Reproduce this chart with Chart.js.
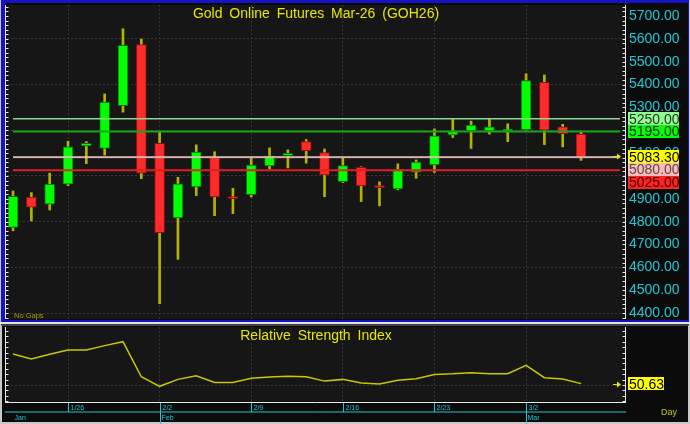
<!DOCTYPE html>
<html>
<head>
<meta charset="utf-8">
<script src="https://cdn.jsdelivr.net/npm/chart.js@4"></script>
<style>
  body { margin: 0; background: #c8c8c8; width: 690px; height: 424px; overflow: hidden; position: relative; font-family: Arial, "Liberation Sans", sans-serif; }
  #mainWrap { position: absolute; left: 0; top: 0; width: 690px; height: 322px; }
  #rsiWrap { position: absolute; left: 0; top: 322px; width: 690px; height: 102px; }
  .lbl { position: absolute; white-space: pre; }
  #title { left: 7px; width: 618px; top: 6px; text-align: center; font-size: 14px; line-height: 14px; color: #e6e600; word-spacing: 3px; }
  #rsiTitle { left: 7px; width: 618px; top: 328px; text-align: center; font-size: 14px; line-height: 14px; color: #e6e600; word-spacing: 3px; }
  #noGaps { left: 14px; top: 312px; font-size: 7.5px; line-height: 8px; color: #a0a000; }
  #day { left: 661px; top: 408px; font-size: 9px; line-height: 9px; color: #c8c800; }
</style>
</head>
<body>
<div id="mainWrap"><canvas id="mainChart"></canvas></div>
<div id="rsiWrap"><canvas id="rsiChart"></canvas></div>
<div class="lbl" id="title">Gold Online Futures Mar-26 (GOH26)</div>
<div class="lbl" id="noGaps">No Gaps</div>
<div class="lbl" id="rsiTitle">Relative Strength Index</div>
<div class="lbl" id="day">Day</div>
<script>
const dates = ["1/21", "1/22", "1/23", "1/26", "1/27", "1/28", "1/29", "1/30",
  "2/2", "2/3", "2/4", "2/5", "2/6", "2/9", "2/10", "2/11", "2/12", "2/13",
  "2/16", "2/17", "2/18", "2/19", "2/20", "2/23", "2/24", "2/25", "2/26", "2/27",
  "3/2", "3/3", "3/4", "3/5"];

const opens = [4775, 4908, 4876, 4964, 5131, 5120, 5308, 5575, 5143, 4816, 4952, 5080, 4910, 4918, 5044, 5089,
  5150, 5102, 4975, 5038, 4958, 4943, 5016, 5048, 5180, 5198, 5197, 5198, 5203, 5410, 5215, 5183];
const highs = [4934, 4927, 5012, 5152, 5150, 5359, 5644, 5599, 5194, 4994, 5136, 5106, 4946, 5082, 5123, 5114,
  5159, 5118, 5080, 5040, 4974, 5053, 5070, 5206, 5250, 5240, 5248, 5228, 5447, 5442, 5226, 5191];
const lows = [4760, 4803, 4851, 4958, 5054, 5091, 5279, 4988, 4441, 4635, 4914, 4826, 4835, 4908, 5031, 5035,
  5056, 4909, 4971, 4888, 4869, 4939, 4990, 5015, 5168, 5120, 5183, 5150, 5200, 5137, 5127, 5068];
const closes = [4911, 4863, 4964, 5127, 5143, 5323, 5572, 5012, 4752, 4966, 5104, 4908, 4901, 5047, 5088, 5099,
  5111, 5004, 5045, 4956, 4949, 5029, 5061, 5175, 5197, 5223, 5215, 5205, 5417, 5200, 5185, 5083.3];

const rsiValues = [64.3, 62.0, 64.2, 66.2, 66.2, 68.2, 70.0, 53.8, 49.4, 52.6, 54.3, 51.2, 51.2, 53.1, 53.7, 54.0,
  53.8, 51.8, 52.6, 50.9, 50.5, 52.2, 52.9, 54.9, 55.2, 55.7, 55.2, 55.2, 59.1, 53.4, 52.8, 50.63];

const priceTicks = [4400, 4500, 4600, 4700, 4800, 4900, 5000, 5100, 5200, 5300, 5400, 5500, 5600, 5700];
const weekTickIdx = [3, 8, 13, 18, 23, 28];
const monthIdx = [0, 8, 28];
const monthLabels = ["Jan", "Feb", "Mar"];
const levelValues = [5250, 5195, 5083.3, 5080, 5025];

// styles for the level lines / boxes, same order as levelValues
const levelLineColors = ["#8cd88c", "#16a416", "#e8c4c4", "#e0b4b4", "#e02020"];
const levelLineWidths = [1.5, 2, 1.5, 1, 2];
const levelBoxColors = ["#90ff90", "#00ff00", "#ffff00", "#ffb8b8", "#ff2020"];
const levelTextColors = ["#303030", "#002800", "#000000", "#505050", "#400000"];

const FONT = 'Arial, "Liberation Sans", sans-serif';
const CYAN = "#1ec8d6";
const X_MIN = -0.33;
const X_MAX = 33.4;

function drawArrow(ctx, x, y) {
  ctx.strokeStyle = "#e6e600";
  ctx.fillStyle = "#e6e600";
  ctx.lineWidth = 1;
  ctx.beginPath();
  ctx.moveTo(x - 5, y + 0.5);
  ctx.lineTo(x, y + 0.5);
  ctx.stroke();
  ctx.beginPath();
  ctx.moveTo(x + 3, y + 0.5);
  ctx.lineTo(x - 1, y - 2.5);
  ctx.lineTo(x - 1, y + 3.5);
  ctx.closePath();
  ctx.fill();
}

function drawAxisTicks(ctx, scale, x, step, from, to, dir) {
  ctx.strokeStyle = "#e8e8e8";
  ctx.lineWidth = 1;
  ctx.beginPath();
  ctx.moveTo(x + 0.5, scale.top);
  ctx.lineTo(x + 0.5, scale.bottom);
  for (let v = from; v <= to; v += step) {
    const y = Math.round(scale.getPixelForValue(v)) + 0.5;
    ctx.moveTo(x + 0.5, y);
    ctx.lineTo(x + 0.5 + dir * 3, y);
  }
  ctx.stroke();
}

const mainDecor = {
  id: "mainDecor",
  beforeDraw(chart) {
    const { ctx, chartArea: a, width, height } = chart;
    ctx.save();
    ctx.fillStyle = "#c8c8c8";
    ctx.fillRect(0, 0, width, height);
    ctx.fillStyle = "#1414c4";
    ctx.fillRect(1, 0, width - 2, height);
    ctx.fillStyle = "#0b0b0b";
    ctx.fillRect(5, 3, width - 7, height - 5);
    ctx.fillStyle = "#161616";
    ctx.fillRect(a.left, a.top, a.right - a.left, a.bottom - a.top);
    ctx.restore();
  },
  afterDatasetsDraw(chart) {
    const { ctx, chartArea: a } = chart;
    const y = chart.scales.y;
    ctx.save();
    levelValues.forEach((v, i) => {
      const py = y.getPixelForValue(v);
      ctx.strokeStyle = levelLineColors[i];
      ctx.lineWidth = levelLineWidths[i];
      ctx.beginPath();
      ctx.moveTo(a.left + 6, py);
      ctx.lineTo(a.right - 5, py);
      ctx.stroke();
    });
    drawArrow(ctx, a.right - 7, Math.round(y.getPixelForValue(closes[closes.length - 1])) - 1);
    ctx.restore();
  },
  afterDraw(chart) {
    const { ctx, chartArea: a } = chart;
    const y = chart.scales.y;
    ctx.save();
    drawAxisTicks(ctx, y, 5, 20, 4380, 5740, 1);
    drawAxisTicks(ctx, y, a.right, 20, 4380, 5740, -1);

    // stacked price boxes on the right
    let prev = -100;
    ctx.font = "14px " + FONT;
    ctx.textBaseline = "middle";
    levelValues.forEach((v, i) => {
      let cy = Math.max(y.getPixelForValue(v), prev + 12.7);
      prev = cy;
      ctx.fillStyle = levelBoxColors[i];
      ctx.fillRect(a.right + 3, Math.round(cy - 6.5), 51, 13);
      ctx.fillStyle = levelTextColors[i];
      ctx.fillText(v.toFixed(2), a.right + 4, cy + 1);
    });
    ctx.restore();
  }
};

const rsiDecor = {
  id: "rsiDecor",
  beforeDraw(chart) {
    const { ctx, chartArea: a, width, height } = chart;
    ctx.save();
    ctx.fillStyle = "#c8c8c8";
    ctx.fillRect(0, 0, width, height);
    ctx.fillStyle = "#e4e4e4";
    ctx.fillRect(0, 0, width, 2);
    ctx.fillStyle = "#3c3c3c";
    ctx.fillRect(1, 2, width - 2, 1.5);
    ctx.fillStyle = "#0b0b0b";
    ctx.fillRect(2, 3.5, width - 4, height - 5.5);
    ctx.fillStyle = "#161616";
    ctx.fillRect(a.left, a.top, a.right - a.left, a.bottom - a.top);
    ctx.restore();
  },
  afterDraw(chart) {
    const { ctx, chartArea: a } = chart;
    const x = chart.scales.x;
    const y = chart.scales.y;
    ctx.save();
    drawAxisTicks(ctx, y, 5, 2.5, 42.5, 75, 1);
    drawAxisTicks(ctx, y, a.right, 2.5, 42.5, 75, -1);
    ctx.strokeStyle = "#e8e8e8";
    ctx.beginPath();
    ctx.moveTo(5, a.bottom + 0.5);
    ctx.lineTo(a.right + 1, a.bottom + 0.5);
    ctx.stroke();

    // week ticks and labels
    ctx.strokeStyle = CYAN;
    ctx.fillStyle = CYAN;
    ctx.font = "7px " + FONT;
    ctx.textBaseline = "middle";
    ctx.beginPath();
    weekTickIdx.forEach(i => {
      const px = Math.round(x.getPixelForValue(i)) + 0.5;
      ctx.moveTo(px, a.bottom + 1);
      ctx.lineTo(px, a.bottom + 10);
      ctx.fillText(dates[i], px + 2, a.bottom + 6);
    });
    ctx.moveTo(5, a.bottom + 10);
    ctx.lineTo(a.right + 1, a.bottom + 10);
    monthIdx.forEach((i, k) => {
      const px = Math.round(x.getPixelForValue(i)) + 0.5;
      if (k > 0) {
        ctx.moveTo(px, a.bottom + 10);
        ctx.lineTo(px, a.bottom + 22);
      }
      ctx.fillText(monthLabels[k], px + 1, a.bottom + 16);
    });
    ctx.stroke();

    // last value box
    const last = rsiValues[rsiValues.length - 1];
    const py = y.getPixelForValue(last);
    drawArrow(ctx, a.right - 7, Math.round(py));
    ctx.fillStyle = "#ffff00";
    ctx.fillRect(a.right + 3, Math.round(py - 6.5), 36, 13);
    ctx.fillStyle = "#000000";
    ctx.font = "14px " + FONT;
    ctx.fillText(last.toFixed(2), a.right + 4, py + 1);
    ctx.restore();
  }
};

const weekGrid = {
  type: "linear",
  min: X_MIN,
  max: X_MAX,
  offset: false,
  grid: { offset: false, color: "#383838", drawTicks: false },
  border: { display: false, dash: [2, 2] },
  ticks: { display: false },
  afterBuildTicks: (s) => { s.ticks = weekTickIdx.map(v => ({ value: v })); }
};

new Chart(document.getElementById("mainChart"), {
  type: "bar",
  data: {
    datasets: [
      {
        label: "range",
        data: lows.map((lo, i) => ({ x: i, y: [lo, highs[i]] })),
        backgroundColor: "#b4b400",
        barThickness: 2,
        grouped: false,
        order: 2
      },
      {
        label: "body",
        data: opens.map((o, i) => ({ x: i, y: [o, closes[i]] })),
        backgroundColor: closes.map((c, i) => (c >= opens[i] ? "#00ff00" : "#ff2a2a")),
        borderColor: closes.map((c, i) => (c >= opens[i] ? "#0a6a0a" : "#8a1010")),
        borderWidth: 1,
        borderSkipped: false,
        barThickness: 10,
        grouped: false,
        order: 1
      }
    ]
  },
  options: {
    responsive: true,
    maintainAspectRatio: false,
    animation: false,
    layout: { padding: { left: 7, top: 5, right: 0, bottom: 3 } },
    plugins: { legend: { display: false }, tooltip: { enabled: false } },
    scales: {
      x: Object.assign({}, weekGrid, {
        afterFit: (s) => { s.height = 0; s.paddingLeft = 0; s.paddingRight = 0; }
      }),
      y: {
        position: "right",
        min: 4374,
        max: 5748,
        grid: {
          color: (c) => (c.tick && c.tick.value % 200 === 0 ? "#383838" : "rgba(0,0,0,0)"),
          drawTicks: false
        },
        border: { display: false, dash: [2, 2] },
        ticks: {
          color: CYAN,
          font: { family: FONT, size: 14 },
          padding: 4,
          callback: (v) => Number(v).toFixed(2)
        },
        afterBuildTicks: (s) => { s.ticks = priceTicks.map(v => ({ value: v })); },
        afterFit: (s) => { s.width = 65; s.paddingTop = 0; s.paddingBottom = 0; }
      }
    }
  },
  plugins: [mainDecor]
});

new Chart(document.getElementById("rsiChart"), {
  type: "line",
  data: {
    datasets: [{
      label: "RSI",
      data: rsiValues.map((v, i) => ({ x: i, y: v })),
      borderColor: "#c8c800",
      borderWidth: 1.5,
      pointRadius: 0,
      tension: 0
    }]
  },
  options: {
    responsive: true,
    maintainAspectRatio: false,
    animation: false,
    layout: { padding: { left: 7, top: 5, right: 0, bottom: 0 } },
    plugins: { legend: { display: false }, tooltip: { enabled: false } },
    scales: {
      x: Object.assign({}, weekGrid, {
        afterFit: (s) => { s.height = 22; s.paddingLeft = 0; s.paddingRight = 0; }
      }),
      y: {
        position: "right",
        min: 42.15,
        max: 76.8,
        grid: { color: "#383838", drawTicks: false },
        border: { display: false, dash: [2, 2] },
        ticks: { display: false },
        afterBuildTicks: (s) => { s.ticks = [{ value: 50 }]; },
        afterFit: (s) => { s.width = 65; s.paddingTop = 0; s.paddingBottom = 0; }
      }
    }
  },
  plugins: [rsiDecor]
});
</script>
</body>
</html>
